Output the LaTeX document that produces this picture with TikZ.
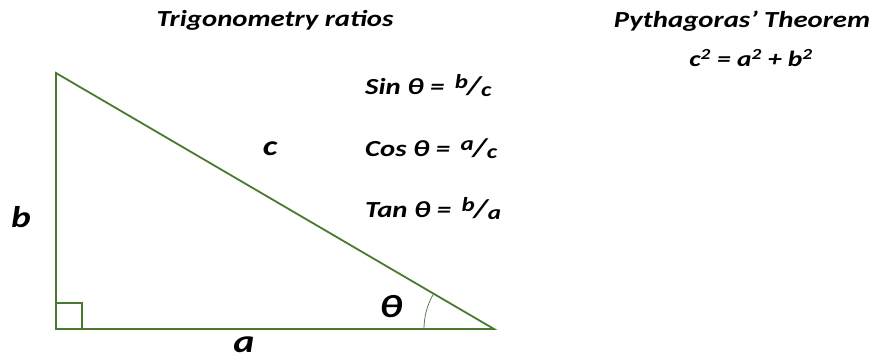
\documentclass[tikz,border=0pt]{standalone}
\usepackage{fontspec}
\setmainfont{Carlito}[FakeStretch=1.25]
\usepackage{tikz}
\usetikzlibrary{positioning}
\definecolor{sidegreen}{HTML}{4A7A30}
\newcommand{\ratio}[2]{\,{\fontsize{20}{20}\selectfont\raisebox{6pt}{#1}}\kern-1pt{\fontsize{26}{26}\selectfont/}{\fontsize{20}{20}\selectfont\raisebox{-2pt}{#2}}}

\begin{document}
\begin{tikzpicture}[x=1pt,y=1pt,
    title/.style={font=\fontsize{23}{26}\selectfont\bfseries\itshape, anchor=base},
    formula/.style={font=\fontsize{23}{26}\selectfont\bfseries\itshape, anchor=base west, inner sep=0pt},
    side/.style={font=\fontsize{#1}{30}\selectfont\bfseries\itshape, anchor=base, inner sep=0pt},
    edge/.style={draw=sidegreen, line width=1.8pt}]
      \useasboundingbox (0,0) rectangle (874,359);
      \coordinate (top) at (56,286);
      \coordinate (corner) at (56,30);
      \coordinate (tip) at (494,30);

      \draw[edge] (top) -- (corner) -- (tip) -- cycle;
      \draw[sidegreen, line width=1.2pt] (corner) ++(26,0) |- ++(-26,26);
      \draw[sidegreen!70!gray, line width=0.8pt] (tip) ++(-70,0) arc (180:149.7:70);

      \node[title] (trig) at (275,332) {Trigonometry ratios};
      \node[title] (pyth) at (742,331) {Pythagoras’ Theorem};
      \node[title, font=\fontsize{22}{26}\selectfont\bfseries\itshape] (pythrule) at (751,292) {c\textsuperscript{2} = a\textsuperscript{2} + b\textsuperscript{2}};

      \node[formula] (sin) at (365,264) {Sin θ = \ratio{b}{c}};
      \node[formula] (cos) at (365,202) {Cos θ = \ratio{a}{c}};
      \node[formula] (tan) at (365,142) {Tan θ = \ratio{b}{a}};

      \node[side=28] (hyp) at (270,203) {c};
      \node[side=30] (opp) at (21,132) {b};
      \node[side=32] (adj) at (244,7) {a};
      \node[side=32] (angle) at (391,42) {θ};
\end{tikzpicture}
\end{document}
